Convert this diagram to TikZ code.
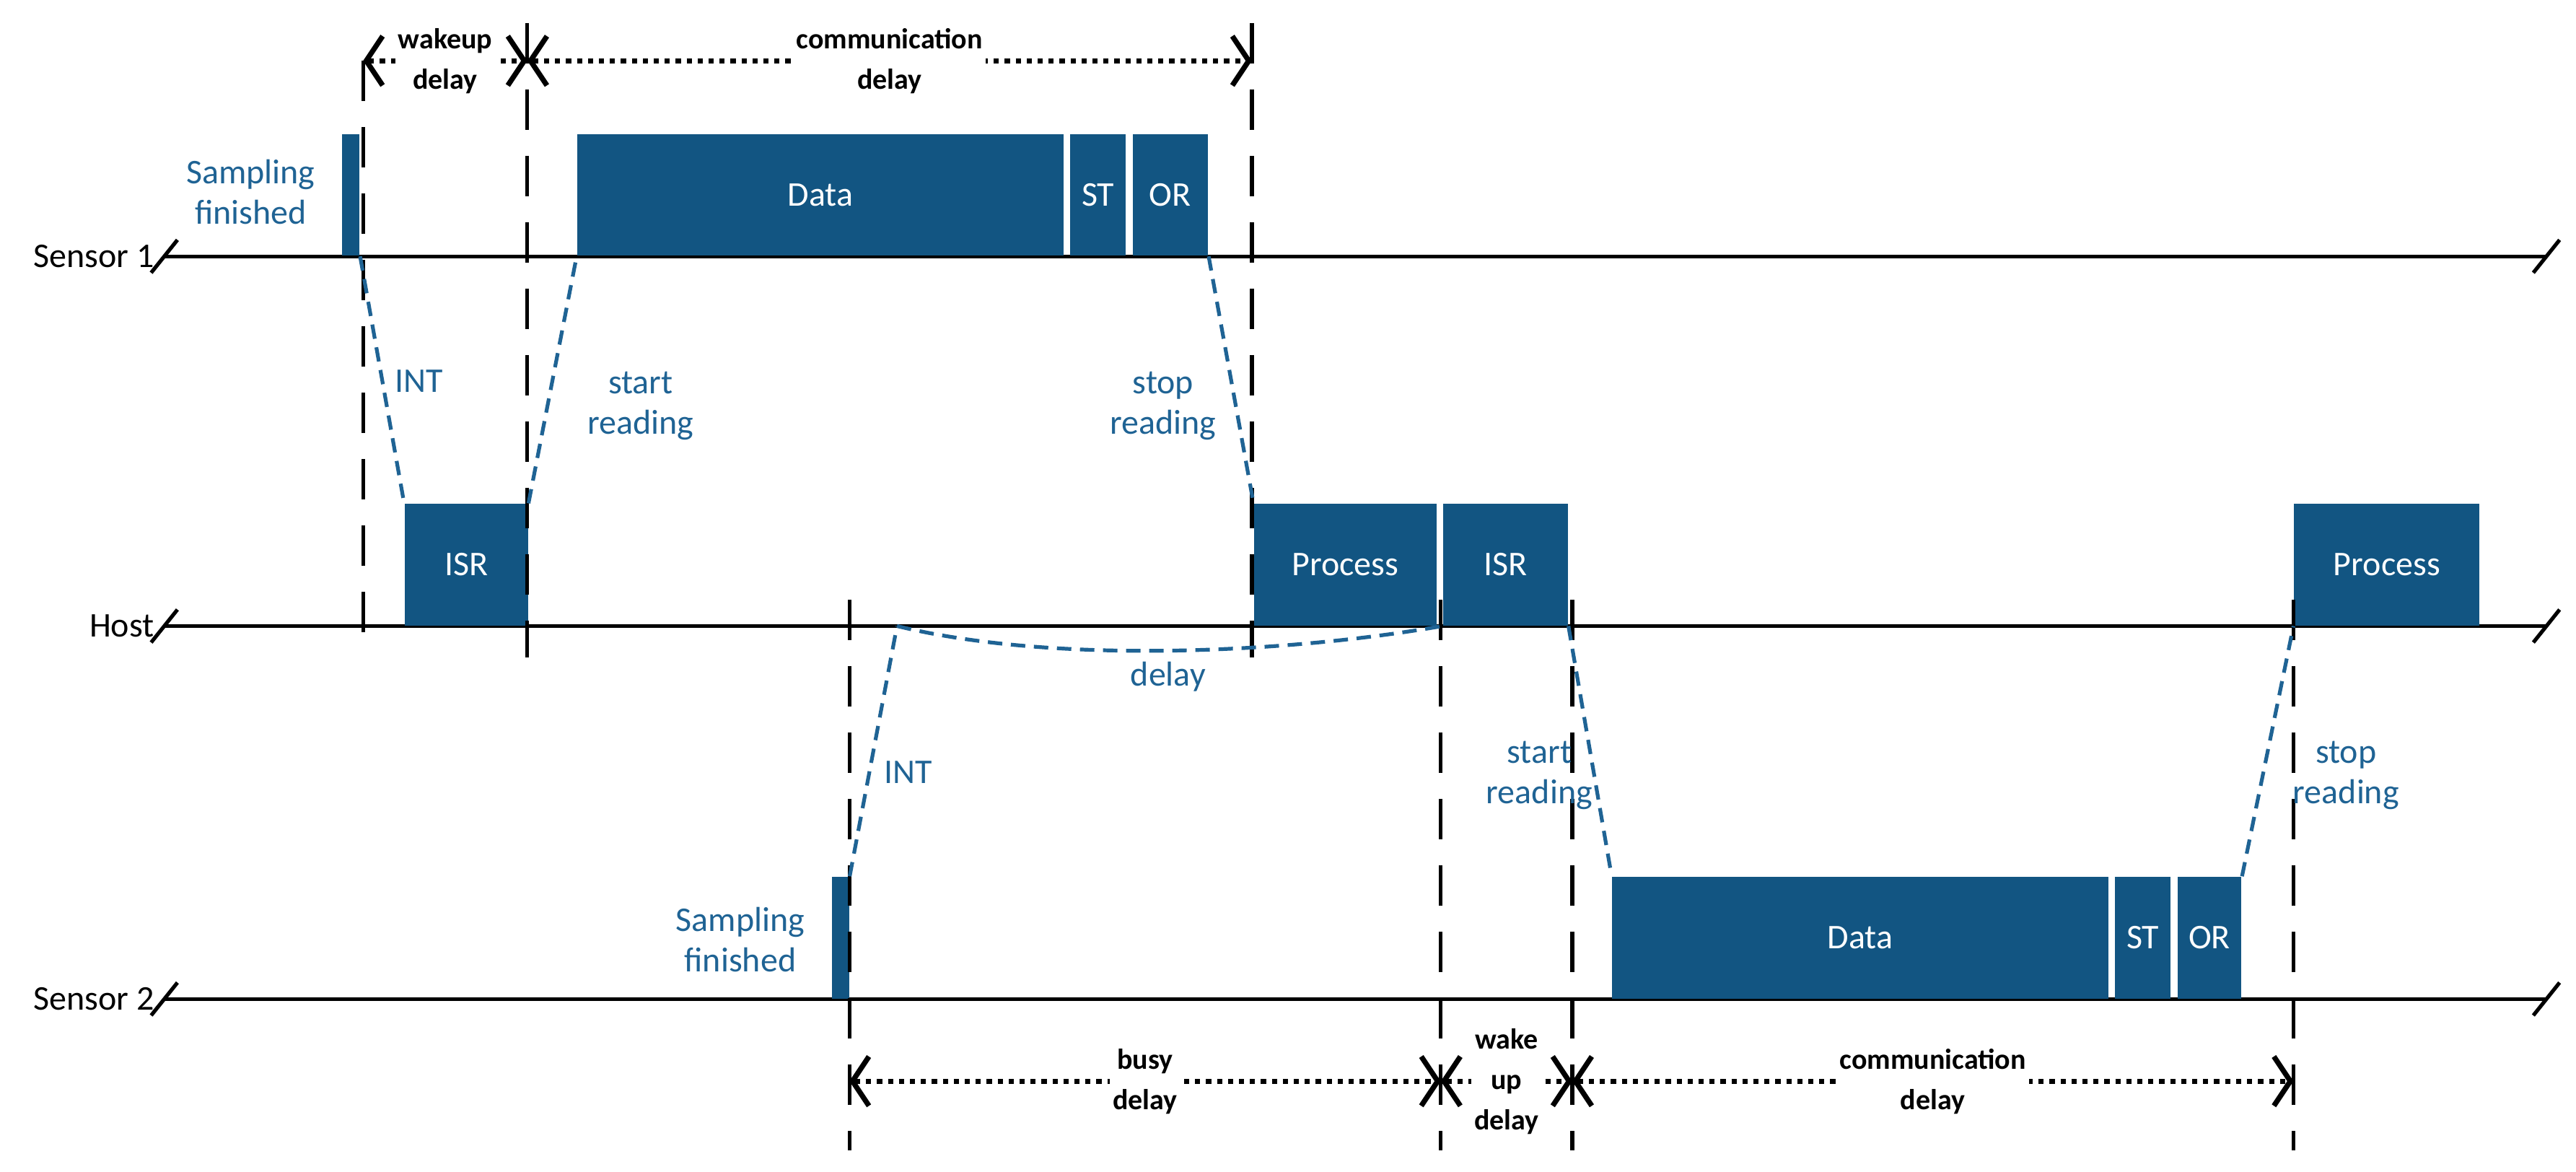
\documentclass[tikz,border=0pt]{standalone}
\usepackage{fontspec}
\setmainfont{Carlito}
\usetikzlibrary{arrows.meta}
\definecolor{boxblue}{HTML}{125582}
\definecolor{txtblue}{HTML}{1F6394}
\begin{document}
\begin{tikzpicture}[x=0.02cm,y=-0.02cm]
\tikzstyle{every node}=[font=\fontsize{12}{14}\selectfont]
\tikzstyle{blk}=[fill=boxblue, text=white, anchor=south west, inner sep=0pt, minimum height=1.48cm]
\tikzstyle{bar}=[fill=boxblue, anchor=south west, inner sep=0pt, minimum height=1.48cm, minimum width=0.21cm]
\tikzstyle{timeline}=[line width=1.3pt]
\tikzstyle{marker}=[line width=1.3pt, dash pattern=on 14pt off 9pt]
\tikzstyle{link}=[line width=1.3pt, txtblue, dash pattern=on 5pt off 3pt]
\tikzstyle{lbl}=[text=txtblue, align=center]
\tikzstyle{span}=[line width=1.8pt, dotted, {Straight Barb[length=2mm,width=6mm]}-{Straight Barb[length=2mm,width=6mm]}]
\tikzstyle{spantxt}=[fill=white, align=center, inner sep=1pt, font=\fontsize{10}{14}\selectfont\bfseries]
	\useasboundingbox (0,0) rectangle (1568,713);

	% time lines
	\foreach \Lane/\YCoord/\Name in {s1/156/Sensor 1, host/381/Host, s2/608/Sensor 2}{
		\node[anchor=east] (\Lane) at (100,\YCoord) {\Name};
		\draw[timeline] (100,\YCoord) -- (1550,\YCoord);
		\draw[timeline] (92,\YCoord+10) -- (108,\YCoord-10);
		\draw[timeline] (1542,\YCoord+10) -- (1558,\YCoord-10);
	}

	% sensor 1
	\node[bar] (samp1) at (208,156) {};
	\node[lbl, anchor=east] at (198,117) {Sampling\\finished};
	\node[blk, minimum width=5.92cm] (data1) at (351,156) {Data};
	\node[blk, minimum width=0.68cm] (st1) at (651,156) {ST};
	\node[blk, minimum width=0.92cm] (or1) at (689,156) {OR};

	% host
	\node[blk, minimum width=1.5cm] (isr1) at (246,381) {ISR};
	\node[blk, minimum width=2.22cm] (proc1) at (763,381) {Process};
	\node[blk, minimum width=1.52cm] (isr2) at (878,381) {ISR};
	\node[blk, minimum width=2.26cm] (proc2) at (1396,381) {Process};

	% sensor 2
	\node[bar] (samp2) at (506,608) {};
	\node[lbl, anchor=east] at (496,572) {Sampling\\finished};
	\node[blk, minimum width=6.04cm] (data2) at (981,608) {Data};
	\node[blk, minimum width=0.68cm] (st2) at (1287,608) {ST};
	\node[blk, minimum width=0.78cm] (or2) at (1325,608) {OR};

	% markers
	\coordinate (m1t) at (221,37);  \coordinate (m1b) at (221,400);
	\coordinate (m2t) at (321,14);  \coordinate (m2b) at (321,400);
	\coordinate (m3t) at (762,14);  \coordinate (m3b) at (762,400);
	\coordinate (m4t) at (517,365); \coordinate (m4b) at (517,700);
	\coordinate (m5t) at (877,365); \coordinate (m5b) at (877,700);
	\coordinate (m6t) at (957,365); \coordinate (m6b) at (957,700);
	\coordinate (m7t) at (1396,365); \coordinate (m7b) at (1396,700);
	\foreach \M in {1,...,7}{
		\draw[marker] (m\M t) -- (m\M b);
	}

	% delays
	\coordinate (a1) at (221,37); \coordinate (a2) at (321,37); \coordinate (a3) at (762,37);
	\draw[span] (a1) -- node[spantxt] {wakeup\\delay} (a2);
	\draw[span] (a2) -- node[spantxt] {communication\\delay} (a3);
	\coordinate (b1) at (517,658); \coordinate (b2) at (877,658);
	\coordinate (b3) at (957,658); \coordinate (b4) at (1396,658);
	\draw[span] (b1) -- node[spantxt] {busy\\delay} (b2);
	\draw[span] (b2) -- node[spantxt] {wake\\up\\delay} (b3);
	\draw[span] (b3) -- node[spantxt] {communication\\delay} (b4);

	% signals
	\draw[link] (samp1.south east) -- (isr1.north west);
	\node[lbl] at (255,232) {INT};
	\draw[link] (isr1.north east) -- (data1.south west);
	\node[lbl] at (390,247) {start\\reading};
	\draw[link] (or1.south east) -- (proc1.north west);
	\node[lbl] at (708,247) {stop\\reading};
	\coordinate (hk) at (546,381);
	\draw[link] (samp2.north east) -- (hk);
	\draw[link] (hk) .. controls (640,404) and (780,398) .. (isr2.south west);
	\node[lbl] at (553,470) {INT};
	\node[lbl] at (711,412) {delay};
	\draw[link] (isr2.south east) -- (data2.north west);
	\node[lbl] at (937,472) {start\\reading};
	\draw[link] (or2.north east) -- (proc2.south west);
	\node[lbl] at (1428,472) {stop\\reading};
\end{tikzpicture}
\end{document}
